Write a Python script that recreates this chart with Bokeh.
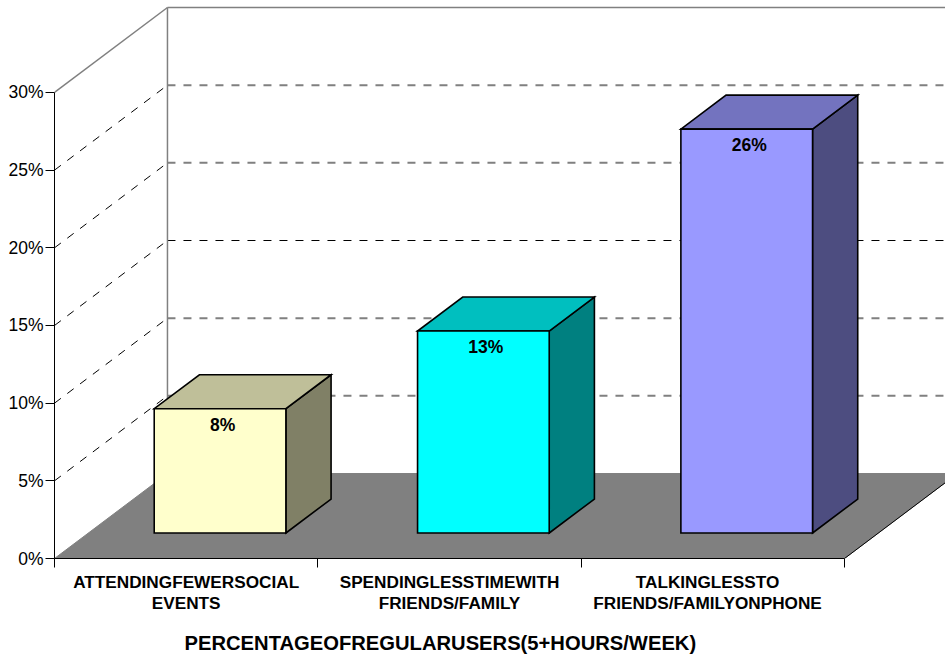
from bokeh.embed import file_html
from bokeh.models import ColumnDataSource, FixedTicker, Range1d, Title
from bokeh.core.properties import value
from bokeh.plotting import figure
from bokeh.resources import INLINE

categories = ["ATTENDINGFEWERSOCIAL\nEVENTS",
              "SPENDINGLESSTIMEWITH\nFRIENDS/FAMILY",
              "TALKINGLESSTO\nFRIENDS/FAMILYONPHONE"]
percentages = [8, 13, 26]
front_colors = ["#FFFFCC", "#00FFFF", "#9999FF"]
top_colors = ["#BFBF99", "#00BFBF", "#7373BF"]
side_colors = ["#808066", "#008080", "#4D4D80"]
y_ticks = [0, 5, 10, 15, 20, 25, 30]
label_positions = [0.5, 1.5, 2.48]
x_title = "PERCENTAGEOFREGULARUSERS(5+HOURS/WEEK)"

# Oblique projection: one full unit of depth moves a point by this much.
DEPTH_X = 0.429
DEPTH_Y = 5.47
Y_MAX = 30
N = len(categories)
BAR_HALF = 0.25
BAR_NEAR = 0.3
BAR_FAR = 0.7


def project(x, y, d):
    return x + d * DEPTH_X, y + d * DEPTH_Y


p = figure(width=945, height=660, output_backend="svg", toolbar_location=None,
           x_range=Range1d(0, 3.3836), y_range=Range1d(0, 35.92),
           min_border_left=54, min_border_right=0, min_border_top=0, min_border_bottom=102,
           background_fill_color="white", border_fill_color="white")
p.outline_line_color = None
p.grid.visible = False

# Floor
fx, fy = zip(*[project(0, 0, 0), project(N, 0, 0), project(N, 0, 1), project(0, 0, 1)])
p.patch(list(fx), list(fy), fill_color="#808080", line_color="#808080", line_width=1)
ex, ey = zip(*[project(N, 0, 0), project(N, 0, 1)])
p.line(list(ex), list(ey), line_color="black", line_width=1)

# Gridlines on the side wall and back wall
for t in y_ticks[1:]:
    sx, sy = zip(*[project(0, t, 0), project(0, t, 1)])
    bx, by = zip(*[project(0, t, 1), project(N + 1, t, 1)])
    if t == Y_MAX:
        p.line(list(sx), list(sy), line_color="#808080", line_width=1.5)
        p.line(list(bx), list(by), line_color="#808080", line_width=1.5)
    else:
        p.line(list(sx), list(sy), line_color="black", line_width=1, line_dash="8 8")
        if t == 15:
            p.line(list(bx), list(by), line_color="black", line_width=1, line_dash="8 8")
        else:
            p.line(list(bx), list(by), line_color="#808080", line_width=2, line_dash="8 8")

# Back wall edge
wx, wy = zip(*[project(0, 0, 1), project(0, Y_MAX, 1)])
p.line(list(wx), list(wy), line_color="#808080", line_width=1.5)

# Bars: side face, top face, front face
for i, v in enumerate(percentages):
    c = i + 0.5
    l, r = c - BAR_HALF, c + BAR_HALF
    outline = dict(line_color="black", line_width=1.6, line_join="miter")
    pts = [project(r, 0, BAR_NEAR), project(r, 0, BAR_FAR), project(r, v, BAR_FAR), project(r, v, BAR_NEAR)]
    p.patch(*map(list, zip(*pts)), fill_color=side_colors[i], **outline)
    pts = [project(l, v, BAR_NEAR), project(r, v, BAR_NEAR), project(r, v, BAR_FAR), project(l, v, BAR_FAR)]
    p.patch(*map(list, zip(*pts)), fill_color=top_colors[i], **outline)
    pts = [project(l, 0, BAR_NEAR), project(r, 0, BAR_NEAR), project(r, v, BAR_NEAR), project(l, v, BAR_NEAR)]
    p.patch(*map(list, zip(*pts)), fill_color=front_colors[i], **outline)

# Value labels just under each bar's front top edge
lx = [project(i + 0.5, v, BAR_NEAR)[0] for i, v in enumerate(percentages)]
ly = [project(i + 0.5, v, BAR_NEAR)[1] for i, v in enumerate(percentages)]
labels = ColumnDataSource(dict(x=lx, y=ly, t=[f"{v}%" for v in percentages]))
p.text("x", "y", text="t", source=labels, text_align="center", text_baseline="middle",
       x_offset=2.5, y_offset=16, text_font=value("Liberation Sans"), text_font_style="bold",
       text_font_size="17.5px", text_color="black")

# Value axis
ya = p.yaxis[0]
ya.ticker = FixedTicker(ticks=y_ticks)
ya.bounds = (0, Y_MAX)
ya.major_label_overrides = {t: f"{t}%" for t in y_ticks}
ya.major_tick_in = 0
ya.major_tick_out = 9
ya.minor_tick_in = 0
ya.minor_tick_out = 0
ya.major_label_standoff = 2
ya.major_label_text_font = "Liberation Sans"
ya.major_label_text_font_size = "17.5px"
ya.major_label_text_color = "black"
ya.axis_line_color = "black"
ya.major_tick_line_color = "black"

# Category axis: labels sit mid-category, ticks mark the category boundaries
xa = p.xaxis[0]
xa.ticker = FixedTicker(ticks=label_positions, minor_ticks=list(range(N + 1)))
xa.bounds = (0, N)
xa.major_label_overrides = dict(zip(label_positions, categories))
xa.major_tick_in = 0
xa.major_tick_out = 0
xa.minor_tick_in = 0
xa.minor_tick_out = 9
xa.minor_tick_line_color = "black"
xa.major_label_standoff = 4
xa.major_label_text_font = "Liberation Sans"
xa.major_label_text_font_style = "bold"
xa.major_label_text_font_size = "17.2px"
xa.major_label_text_line_height = 1.05
xa.major_label_text_color = "black"
xa.axis_line_color = "black"
xa.axis_line_width = 1

# Blank title acts as a spacer; the axis title goes under it, aligned from the frame's left edge
p.add_layout(Title(text=" ", standoff=0, text_font_size="10px"), "below")
p.add_layout(Title(text=x_title, align="left", offset=130, standoff=2,
                   text_font="Liberation Sans", text_font_style="bold",
                   text_font_size="20.2px", text_color="black"), "below")

open("out.html", "w").write(file_html(p, INLINE))
